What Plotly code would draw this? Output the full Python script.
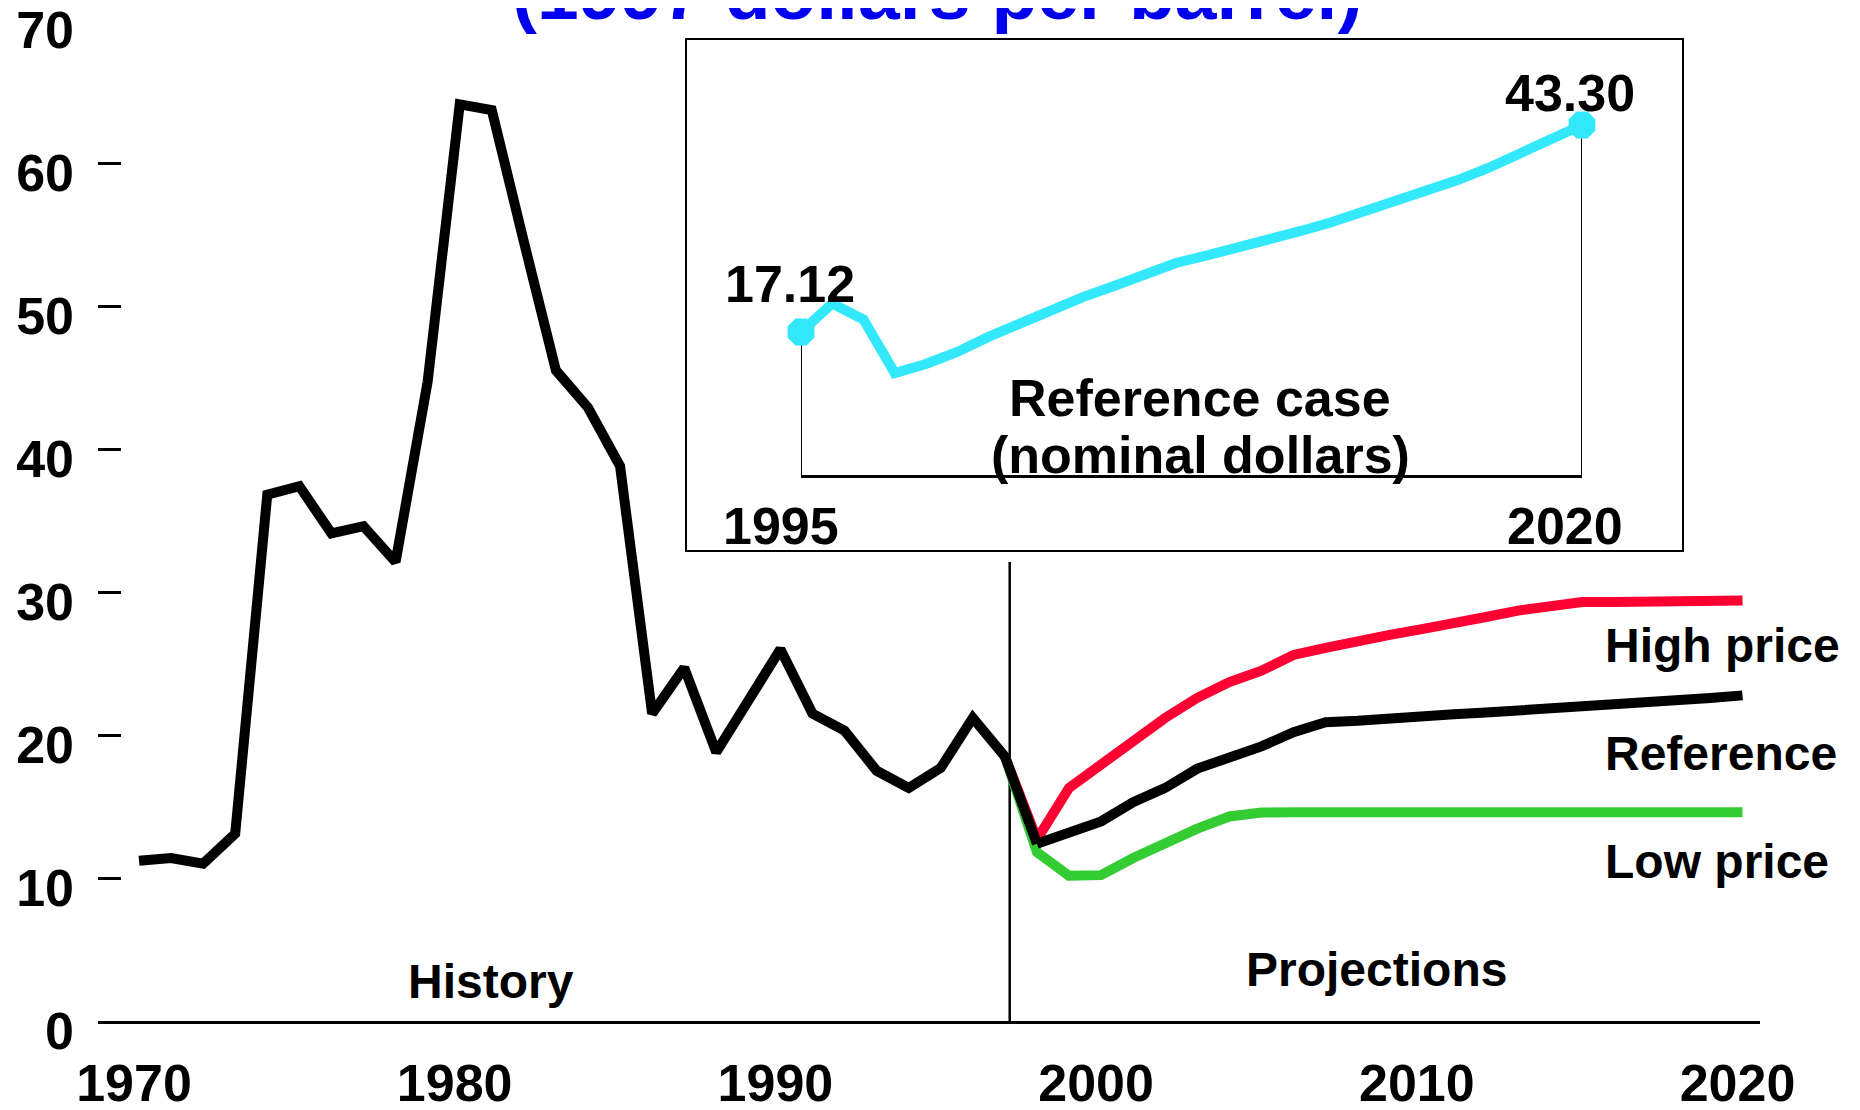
import plotly.graph_objects as go

# page body has an 8px margin: the figure is sized to fill the rest of the window
OFF = 8
W, H = 1860 - OFF, 1110 - OFF
FONT = "Liberation Sans, Arial, sans-serif"

# ---------------- data ----------------
hist_years = list(range(1970, 1999))
hist_price = [11.2, 11.4, 11.0, 13.1, 36.8, 37.4, 34.1, 34.6, 32.1, 44.7,
              64.1, 63.7, 54.5, 45.5, 42.9, 38.8, 21.5, 24.7, 18.8, 22.4,
              26.0, 21.5, 20.3, 17.5, 16.3, 17.7, 21.2, 18.5, 12.4]

proj_years = list(range(1997, 2021))
high_price = [18.5, 12.7, 16.3, 18.0, 19.6, 21.2, 22.6, 23.7, 24.5, 25.6,
              26.1, 26.6, 27.0, 27.4, 27.9, 28.25, 28.7, 29.0, 29.3, 29.3,
              29.35, 29.37, 29.39, 29.4]
ref_price = [18.5, 12.4, 13.2, 13.96, 15.3, 16.3, 17.65, 18.46, 19.2, 20.2,
             20.9, 21.0, 21.2, 21.3, 21.45, 21.57, 21.7, 21.8, 21.95, 22.07,
             22.2, 22.37, 22.58, 22.77]
low_price = [18.5, 11.8, 10.16, 10.2, 11.4, 12.5, 13.45, 14.3, 14.58, 14.6,
             14.6, 14.6, 14.6, 14.6, 14.6, 14.6, 14.6, 14.6, 14.6, 14.6,
             14.6, 14.6, 14.6, 14.6]

nominal_years = list(range(1995, 2021))
nominal_price = [17.12, 20.71, 18.69, 11.93, 13.07, 14.6, 16.5, 18.16, 20.15, 21.5,
                 22.9, 24.4, 25.85, 26.8, 27.74, 28.75, 29.9, 31.03, 32.3, 33.56,
                 34.8, 36.3, 37.86, 39.6, 41.47, 43.30]

x_ticks = [1970, 1980, 1990, 2000, 2010, 2020]
y_ticks = [0, 10, 20, 30, 40, 50, 60, 70]
divider_year = 1997.15

RED = "#FF0033"
GREEN = "#33CC33"
CYAN = "#33E8FA"
BLUE = "#0000EE"

# ---------------- figure ----------------
fig = go.Figure()

line_w = 10
fig.add_trace(go.Scatter(x=proj_years, y=high_price, mode="lines",
                         line=dict(color=RED, width=line_w), xaxis="x", yaxis="y",
                         cliponaxis=False))
fig.add_trace(go.Scatter(x=proj_years, y=low_price, mode="lines",
                         line=dict(color=GREEN, width=line_w), xaxis="x", yaxis="y",
                         cliponaxis=False))
fig.add_trace(go.Scatter(x=proj_years[1:], y=ref_price[1:], mode="lines",
                         line=dict(color="black", width=line_w), xaxis="x", yaxis="y",
                         cliponaxis=False))
fig.add_trace(go.Scatter(x=hist_years, y=hist_price, mode="lines",
                         line=dict(color="black", width=line_w), xaxis="x", yaxis="y",
                         cliponaxis=False))

# inset
y2_min = -0.965
fig.add_trace(go.Scatter(x=[nominal_years[0], nominal_years[0]], y=[y2_min, nominal_price[0]],
                         mode="lines", line=dict(color="black", width=2),
                         xaxis="x2", yaxis="y2", cliponaxis=False))
fig.add_trace(go.Scatter(x=[nominal_years[-1], nominal_years[-1]], y=[y2_min, nominal_price[-1]],
                         mode="lines", line=dict(color="black", width=2),
                         xaxis="x2", yaxis="y2", cliponaxis=False))
fig.add_trace(go.Scatter(x=nominal_years, y=nominal_price, mode="lines",
                         line=dict(color=CYAN, width=10), xaxis="x2", yaxis="y2",
                         cliponaxis=False))
fig.add_trace(go.Scatter(x=[nominal_years[0], nominal_years[-1]],
                         y=[nominal_price[0], nominal_price[-1]], mode="markers",
                         marker=dict(color=CYAN, size=29, symbol="octagon", line=dict(width=0)),
                         xaxis="x2", yaxis="y2", cliponaxis=False))


def px_x(px):
    return (px - OFF) / W


def px_y(py):
    return 1 - (py - OFF) / H


tickfont = dict(family=FONT, size=52, color="black", weight="bold")

# main axes: plot area in window pixels x 98..1760, y 20..1021
x_px0, x_px1 = 98, 1760
yr0_px, yr_step = 139.0, 32.07
x_range = [1970 + (x_px0 - yr0_px) / yr_step, 1970 + (x_px1 - yr0_px) / yr_step]

fig.update_layout(
    template="none",
    width=W, height=H,
    margin=dict(l=0, r=0, t=0, b=0, autoexpand=False),
    paper_bgcolor="white", plot_bgcolor="rgba(0,0,0,0)",
    showlegend=False,
    xaxis=dict(domain=[px_x(x_px0), px_x(x_px1)], range=x_range,
               tickvals=x_ticks, ticks="", showgrid=False, zeroline=False,
               showline=True, linecolor="black", linewidth=3,
               tickfont=tickfont, ticklabelstandoff=15, ticklabelshift=-5, anchor="y",
               automargin=False, ticklabeloverflow="allow"),
    yaxis=dict(domain=[px_y(1021), px_y(20)], range=[0, 70],
               tickvals=y_ticks, ticks="inside", ticklen=23, tickwidth=2.5,
               tickcolor="black", showgrid=False, zeroline=False, showline=False,
               tickfont=tickfont, ticklabelstandoff=23, ticklabelshift=10, anchor="x",
               automargin=False, ticklabeloverflow="allow"),
    xaxis2=dict(domain=[px_x(801), px_x(1582)], range=[1995, 2020],
                showticklabels=False, ticks="", showgrid=False, zeroline=False,
                showline=True, linecolor="black", linewidth=3, anchor="y2",
                automargin=False),
    yaxis2=dict(domain=[px_y(475), px_y(100)], range=[y2_min, 43.30 + 25 / 7.907],
                showticklabels=False, ticks="", showgrid=False, zeroline=False,
                showline=False, anchor="x2", automargin=False),
)

# inset frame and divider
fig.add_shape(type="rect", xref="paper", yref="paper",
              x0=px_x(686), x1=px_x(1683), y0=px_y(551), y1=px_y(39),
              line=dict(color="black", width=2), fillcolor="rgba(0,0,0,0)", layer="below")
fig.add_shape(type="line", xref="x", yref="paper",
              x0=divider_year, x1=divider_year, y0=px_y(1021), y1=px_y(562),
              line=dict(color="black", width=2.5), layer="below")


def ann(text, px, py, size=52, color="black", xanchor="center"):
    fig.add_annotation(text=text, x=px_x(px), y=px_y(py), xref="paper", yref="paper",
                       xanchor=xanchor, yanchor="middle", showarrow=False, borderpad=0,
                       font=dict(family=FONT, size=size, color=color, weight="bold"))


ann("(1997 dollars per barrel)", 937, -7, size=75, color=BLUE)
ann("17.12", 790, 284)
ann("43.30", 1570, 93.5)
ann("1995", 780.5, 526)
ann("2020", 1565, 526)
ann("Reference case", 1200, 398.5)
ann("(nominal dollars)", 1200, 454.5)
ann("High price", 1604, 645, size=48, xanchor="left")
ann("Reference", 1604, 753, size=48, xanchor="left")
ann("Low price", 1604, 861, size=48, xanchor="left")
ann("Projections", 1376, 969, size=48)
ann("History", 490.6, 981, size=48)

fig.write_html("out.html")
